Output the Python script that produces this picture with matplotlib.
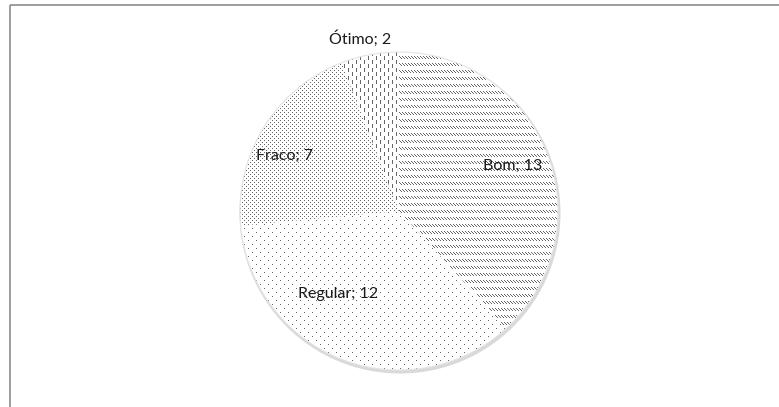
import numpy as np
import matplotlib.pyplot as plt
from matplotlib.patches import Circle

# notas da avaliação
categorias = ["Bom", "Regular", "Fraco", "Ótimo"]
valores = [13, 12, 7, 2]

W, H = 779, 407
fig = plt.figure(figsize=(W / 100, H / 100), dpi=100)
ax = fig.add_axes([0, 0, 1, 1])
ax.set_xlim(0, W)
ax.set_ylim(0, H)
ax.set_aspect("equal")
ax.axis("off")

cx, cy, r = 399, 196, 159


def tile_pattern(kind):
    # padrões de preenchimento tipo Excel, 1 px = 1 ponto da imagem
    yy, xx = np.mgrid[0:H, 0:W]
    if kind == "diag":       # tracejado diagonal descendente
        row = yy % 7
        m = (row < 3) & ((xx - row) % 3 == 0)
    elif kind == "5pct":     # pontilhado esparso
        m = ((yy % 8 == 0) & (xx % 8 == 0)) | ((yy % 8 == 4) & (xx % 8 == 4))
    elif kind == "20pct":    # pontilhado denso
        m = ((yy % 4 == 0) & (xx % 4 == 0)) | ((yy % 4 == 2) & (xx % 4 == 2))
    else:                    # tracejado vertical
        col = xx % 4
        m = (col == 0) & (((yy + (xx // 4 % 2) * 4) % 8) < 4)
    img = np.ones((H, W, 3))
    img[m] = 0.4
    return img


padroes = ["diag", "5pct", "20pct", "vert"]

# sombra suave por baixo do círculo
ax.add_patch(Circle((cx + 1, cy - 2), r + 1.5, facecolor="#d9d9d9", edgecolor="none", zorder=0))

wedges, _ = ax.pie(valores, center=(cx, cy), radius=r, startangle=90, counterclock=False,
                   colors=["white"] * 4, wedgeprops=dict(edgecolor="none", linewidth=0))
for w in wedges:
    w.set_zorder(1)

for w, p in zip(wedges, padroes):
    im = ax.imshow(tile_pattern(p), extent=(0, W, 0, H), origin="upper",
                   interpolation="nearest", zorder=2)
    im.set_clip_path(w)

ax.add_patch(Circle((cx, cy), r, facecolor="none", edgecolor="#e4e4e4", linewidth=0.8, zorder=3))
ax.set_xlim(0, W)
ax.set_ylim(0, H)

# posição dos rótulos (ângulo deslocado e raio relativo)
ajuste_ang = [0.3, -15, 6, 2]
raio_rel = [0.77, 0.65, 0.8, 1.11]
for w, cat, v, da, rr in zip(wedges, categorias, valores, ajuste_ang, raio_rel):
    meio = np.deg2rad((w.theta1 + w.theta2) / 2 + da)
    ax.text(cx + rr * r * np.cos(meio), cy + rr * r * np.sin(meio), f"{cat}; {v}",
            ha="center", va="center", fontsize=11.5, family="Lato", color="#1a1a1a", zorder=4)

# moldura da área do gráfico
ax.plot([10.5, W], [H - 4.5, H - 4.5], color="#8c8c8c", lw=1.2, solid_capstyle="butt", zorder=5)
ax.plot([10.5, 10.5], [0, H - 4.5], color="#8c8c8c", lw=1.2, solid_capstyle="butt", zorder=5)

fig.savefig("out.png", dpi=100)
